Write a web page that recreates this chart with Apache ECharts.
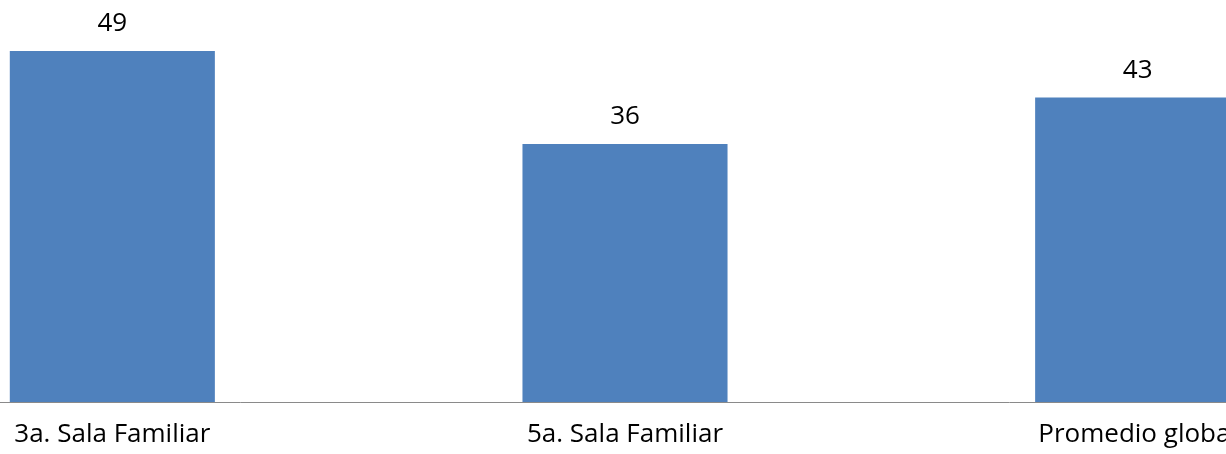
<!DOCTYPE html>
<html>
<head>
<meta charset="utf-8">
<script src="https://cdn.jsdelivr.net/npm/echarts@6/dist/echarts.min.js"></script>
<style>
html,body{margin:0;padding:0;width:1226px;height:454px;overflow:hidden;background:#fff;position:relative;}
#chart{position:absolute;left:-144px;top:0;width:1538px;height:454px;}
</style>
</head>
<body>
<div id="chart"></div>
<script>
const categories = ["3a. Sala Familiar", "5a. Sala Familiar", "Promedio global"];
const values = [49, 36, 42.5];

const chart = echarts.init(document.getElementById('chart'), null, {renderer: 'canvas'});
chart.setOption({
  animation: false,
  grid: {left: 0, right: 0, top: 0, bottom: 52, containLabel: false},
  xAxis: {
    type: 'category',
    data: categories,
    axisLine: {show: true, lineStyle: {color: '#8a8a8a', width: 1}},
    axisTick: {show: false},
    axisLabel: {color: '#000', fontFamily: 'Open Sans', fontSize: 26, margin: 20, interval: 0}
  },
  yAxis: {
    type: 'value', min: 0, max: 56.1,
    show: false,
    splitLine: {show: false}
  },
  series: [{
    type: 'bar',
    data: values,
    barWidth: '40%',
    itemStyle: {color: '#4f81bd'},
    label: {
      show: true, position: 'top', distance: 14,
      color: '#000', fontFamily: 'Open Sans', fontSize: 26,
      formatter: p => Math.round(p.value).toString()
    }
  }]
});
</script>
</body>
</html>
